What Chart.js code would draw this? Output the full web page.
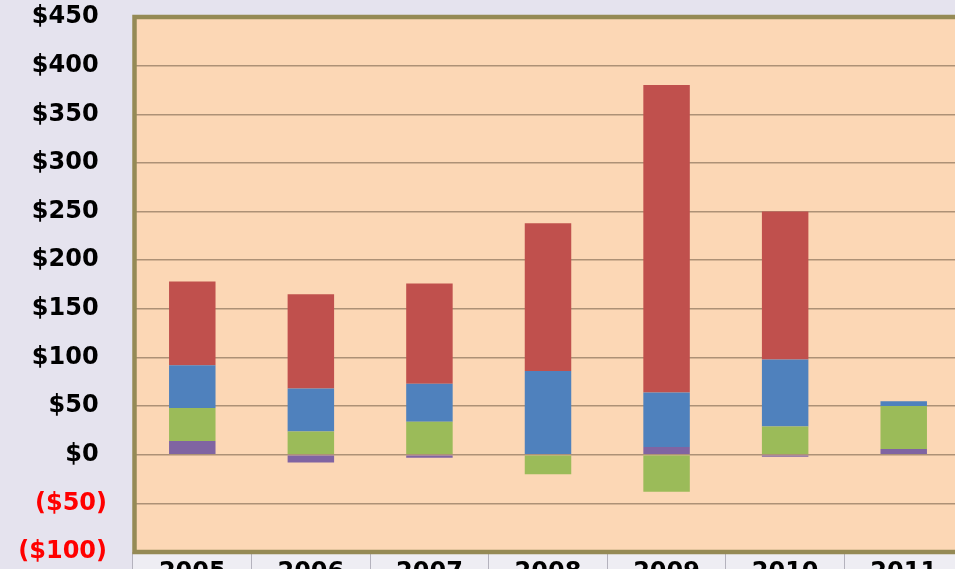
<!DOCTYPE html>
<html>
<head>
<meta charset="utf-8">
<title>Stacked bars 2005-2011</title>
<script src="https://cdn.jsdelivr.net/npm/chart.js@4/dist/chart.umd.min.js"></script>
<style>
  html, body { margin: 0; padding: 0; overflow: hidden; background: #e5e3ee; }
  #chart { display: block; }
</style>
</head>
<body>
<canvas id="chart" width="963" height="569"></canvas>
<script>
// ========== Dados ==========
const years = ['2005', '2006', '2007', '2008', '2009', '2010', '2011'];
const purpleVals = [14, -8, -3, 0, 8, -2, 6];
const greenVals = [34, 24, 34, -20, -38, 29, 44];
const blueVals = [44, 44, 39, 86, 56, 69, 5];
const redVals = [86, 97, 103, 152, 316, 152, 0];
const yTicks = [-100, -50, 0, 50, 100, 150, 200, 250, 300, 350, 400, 450];

// ========== Estilo ==========
const FONT = { family: '"DejaVu Sans", Verdana, sans-serif', size: 24, weight: 'bold' };
const PLOT_BG = '#fcd7b5';
const PLOT_BORDER = '#958a55';

function formatMoney(v) {
  // formato contábil: negativos entre parênteses, positivos com espaço no lugar do ")"
  return v < 0 ? '($' + Math.abs(v) + ')' : '$' + v + ' ';
}

// fundo da área de plotagem, moldura e faixa dos rótulos
const framePlugin = {
  id: 'frame',
  beforeDraw(chart) {
    const { ctx, chartArea: a } = chart;
    ctx.save();
    ctx.fillStyle = '#eeedf3';
    ctx.fillRect(a.left, a.bottom, a.right - a.left, chart.height - a.bottom);
    ctx.fillStyle = PLOT_BG;
    ctx.fillRect(a.left, a.top, a.right - a.left, a.bottom - a.top);
    ctx.restore();
  },
  afterDatasetsDraw(chart) {
    const { ctx, chartArea: a } = chart;
    ctx.save();
    ctx.strokeStyle = PLOT_BORDER;
    ctx.lineWidth = 4.5;
    ctx.strokeRect(a.left + 1.5, a.top, a.right - a.left, a.bottom - a.top);
    ctx.restore();
  }
};

function makeDataset(label, data, color) {
  return {
    label,
    data,
    backgroundColor: color,
    borderWidth: 0,
    barPercentage: 0.392,
    categoryPercentage: 1
  };
}

// ========== Gráfico ==========
const ctx = document.getElementById('chart').getContext('2d');
const chart = new Chart(ctx, {
  type: 'bar',
  data: {
    labels: years,
    datasets: [
      makeDataset('Purple', purpleVals, '#8064a2'),
      makeDataset('Green', greenVals, '#9bbb59'),
      makeDataset('Blue', blueVals, '#4f81bd'),
      makeDataset('Red', redVals, '#c0504d')
    ]
  },
  options: {
    responsive: false,
    animation: false,
    layout: { padding: { top: 17, left: 0, right: 0, bottom: 0 } },
    plugins: { legend: { display: false }, tooltip: { enabled: false } },
    scales: {
      x: {
        stacked: true,
        offset: true,
        border: { display: false },
        grid: {
          offset: true,
          drawOnChartArea: false,
          drawTicks: true,
          tickLength: 20,
          tickColor: '#b4b2bd',
          lineWidth: 1
        },
        ticks: { color: '#000', font: FONT, padding: -14, maxRotation: 0 },
        afterFit(scale) {
          scale.height = 17;
          scale.paddingLeft = 0;
          scale.paddingRight = 0;
        }
      },
      y: {
        stacked: true,
        min: -100,
        max: 450,
        border: { display: false },
        afterBuildTicks(scale) { scale.ticks = yTicks.map(v => ({ value: v })); },
        grid: { color: '#ad9176', lineWidth: 1.5, drawTicks: false },
        ticks: {
          font: FONT,
          padding: 26,
          color: c => (c.tick && c.tick.value < 0 ? '#ff0000' : '#000000'),
          callback: v => formatMoney(v)
        },
        afterFit(scale) {
          scale.width = 133;
          scale.paddingTop = 0;
          scale.paddingBottom = 0;
        }
      }
    }
  },
  plugins: [framePlugin]
});
</script>
</body>
</html>
